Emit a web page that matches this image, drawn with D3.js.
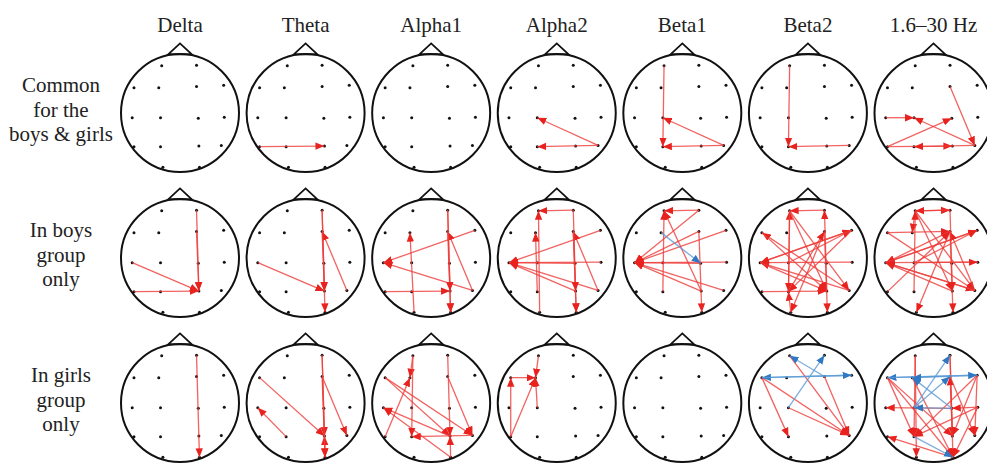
<!DOCTYPE html>
<html>
<head>
<meta charset="utf-8">
<script src="https://cdn.jsdelivr.net/npm/d3@7/dist/d3.min.js"></script>
<style>
  body { margin: 0; background: #fff; }
  svg text { font-family: "Liberation Serif", "Times New Roman", serif; fill: #222; }
</style>
</head>
<body>
<div id="chart"></div>
<script>
// frequency bands (columns) and groups (rows)
const bands = ["Delta", "Theta", "Alpha1", "Alpha2", "Beta1", "Beta2", "1.6\u201330 Hz"];
const groupLabels = [
  ["Common", "for the", "boys & girls"],
  ["In boys", "group", "only"],
  ["In girls", "group", "only"]
];

// 16 electrode montage, head radius = 1, y grows to the back of the head
const electrodes = ["Fp1", "Fp2", "F7", "F3", "F4", "F8", "T3", "C3", "C4", "T4", "T5", "P3", "P4", "T6", "O1", "O2"];
const elecX = [-0.31, 0.28, -0.78, -0.36, 0.28, 0.74, -0.81, -0.33, 0.31, 0.75, -0.78, -0.33, 0.32, 0.70, -0.29, 0.33];
const elecY = [-0.80, -0.81, -0.43, -0.43, -0.45, -0.47, 0.08, 0.08, 0.09, 0.07, 0.57, 0.57, 0.56, 0.55, 0.92, 0.92];

// directed connections "from-to", one list per band
const commonRed = [
  [],
  ["T5-P4"],
  [],
  ["T6-C3", "T6-P3"],
  ["Fp1-P3", "T6-C3", "T6-P3"],
  ["Fp1-P3", "T6-P3"],
  ["T3-C3", "F4-T6", "T5-C4", "T6-C3", "T5-P4", "T6-P3"]
];
const commonBlue = [[], [], [], [], [], [], []];

const boysRed = [
  ["Fp2-P4", "F4-P4", "T3-P4", "T5-P4"],
  ["Fp2-O2", "T6-F4", "T3-P4", "F4-P4", "Fp2-P4"],
  ["O1-F3", "F8-T3", "T6-T3", "T5-P4", "T6-F4", "Fp2-O2", "F4-O2", "Fp2-P4"],
  ["Fp2-Fp1", "O1-Fp1", "P3-F3", "F8-T3", "T4-T3", "C4-T3", "P4-T3", "T6-T3", "T6-F4", "F4-O2", "Fp2-O2", "F4-P4"],
  ["Fp2-Fp1", "P3-Fp1", "P4-Fp1", "Fp2-T3", "F4-T3", "F8-T3", "T4-T3", "C4-T3", "P4-T3", "T6-T3", "F4-O2"],
  ["Fp2-Fp1", "P4-Fp2", "P3-Fp1", "Fp1-P3", "O1-P3", "F4-O1", "T6-F7", "T3-F8", "C3-F8", "F8-T3", "T4-T3",
   "T6-T3", "T5-P4", "Fp1-P4", "Fp1-T6", "F7-P4", "F4-O2", "P3-F4", "F8-P3", "T3-P4"],
  ["Fp1-Fp2", "Fp2-Fp1", "Fp1-F3", "F7-F4", "F8-T3", "F4-T3", "T4-T3", "C3-T4", "T3-F8", "T3-T6", "F7-T6",
   "Fp1-T6", "F4-O1", "F4-O2", "T5-F4", "P3-Fp1", "T6-T3", "P4-T3", "Fp1-P4", "T6-F4", "C3-F8", "Fp2-P4"]
];
const boysBlue = [[], [], [], [], ["F3-C4"], [], []];

const girlsRed = [
  ["Fp2-O2"],
  ["F7-P4", "P3-T3", "F4-T6", "Fp2-O2", "Fp2-P4", "O2-P4", "F4-O2"],
  ["Fp1-F3", "T5-F3", "F7-P4", "F7-T6", "O2-T3", "P4-T3", "Fp1-P3", "T6-P3", "F4-T6", "Fp2-P4", "O2-P4"],
  ["Fp1-F3", "F7-F3", "T5-F7", "T5-F3", "C3-F3"],
  [],
  ["Fp1-T6", "F7-T6", "F7-P3", "F4-T6", "C3-T6"],
  ["Fp1-O1", "Fp1-P3", "Fp2-O2", "Fp2-P4", "P4-F4", "F7-P3", "F7-P4", "F7-O2", "F8-P3", "F8-P4", "T4-C4",
   "T4-P3", "O2-T5", "C4-T3", "F4-T6", "T4-O2", "F3-O2", "F8-T6"]
];
const girlsBlue = [
  [], [], [], [], [],
  ["F4-Fp1", "C3-Fp2", "F8-F7", "F7-F8"],
  ["F8-F7", "F7-F8", "F4-F3", "C4-C3", "C4-F3", "C3-Fp2", "C3-F4", "P3-O2"]
];

const redLinks = [commonRed, boysRed, girlsRed];
const blueLinks = [commonBlue, boysBlue, girlsBlue];

const width = 987;
const height = 463;
const r = 59;

const svg = d3.select('#chart')
  .append('svg')
  .attr('width', width)
  .attr('height', height);

const defs = svg.append('defs');
const arrowColors = { red: '#e8231f', blue: '#2f78c4' };
Object.keys(arrowColors).forEach(k => {
  defs.append('marker')
    .attr('id', 'arrow-' + k)
    .attr('markerUnits', 'userSpaceOnUse')
    .attr('markerWidth', 10)
    .attr('markerHeight', 8)
    .attr('refX', 9)
    .attr('refY', 4)
    .attr('orient', 'auto')
    .append('path')
    .attr('d', 'M0,0.3 L9,4 L0,7.7 Z')
    .attr('fill', arrowColors[k]);
});

const colScale = d3.scaleLinear().domain([0, bands.length - 1]).range([180, 933.5]);
const rowScale = d3.scaleLinear().domain([0, groupLabels.length - 1]).range([113, 403]);

// column titles
svg.selectAll('.band-title')
  .data(bands)
  .enter()
  .append('text')
  .attr('class', 'band-title')
  .attr('x', (d, i) => colScale(i))
  .attr('y', 31.5)
  .attr('text-anchor', 'middle')
  .style('font-size', '21px')
  .text(d => d);

// row labels
groupLabels.forEach((lines, row) => {
  const t = svg.append('text')
    .attr('text-anchor', 'middle')
    .style('font-size', '21px');
  lines.forEach((line, j) => {
    t.append('tspan')
      .attr('x', 61)
      .attr('y', rowScale(row) - 21 + j * 24.7)
      .text(line);
  });
});

const index = {};
electrodes.forEach((e, i) => index[e] = i);

const drawHead = (row, col) => {
  const cx = colScale(col);
  const cy = rowScale(row);
  const hx = d3.scaleLinear().domain([-1, 1]).range([cx - r, cx + r]);
  const hy = d3.scaleLinear().domain([-1, 1]).range([cy - r, cy + r]);
  const g = svg.append('g').attr('class', 'head');

  // nose
  g.append('path')
    .attr('d', d3.line()([[hx(-0.2), hy(-0.995)], [hx(0), hy(-1.18)], [hx(0.2), hy(-0.995)]]) + 'Z')
    .attr('fill', 'none')
    .attr('stroke', '#111')
    .attr('stroke-width', 1.8);

  g.append('circle')
    .attr('cx', hx(0))
    .attr('cy', hy(0))
    .attr('r', hx(1) - hx(0))
    .attr('fill', 'none')
    .attr('stroke', '#111')
    .attr('stroke-width', 2);

  g.selectAll('.electrode')
    .data(electrodes)
    .enter()
    .append('circle')
    .attr('class', 'electrode')
    .attr('cx', (d, i) => hx(elecX[i]))
    .attr('cy', (d, i) => hy(elecY[i]))
    .attr('r', 1.5)
    .attr('fill', '#111');

  const addLinks = (links, color, stroke) => {
    g.selectAll('.link-' + color)
      .data(links.map(s => s.split('-')))
      .enter()
      .append('line')
      .attr('class', 'link-' + color)
      .attr('x1', d => hx(elecX[index[d[0]]]))
      .attr('y1', d => hy(elecY[index[d[0]]]))
      .attr('x2', d => hx(elecX[index[d[1]]]))
      .attr('y2', d => hy(elecY[index[d[1]]]))
      .attr('stroke', stroke)
      .attr('stroke-opacity', 0.8)
      .attr('stroke-width', 1.3)
      .attr('marker-end', 'url(#arrow-' + color + ')');
  };
  addLinks(redLinks[row][col], 'red', '#ee3c3a');
  addLinks(blueLinks[row][col], 'blue', '#5a9ad6');
};

for (let row = 0; row < groupLabels.length; row++) {
  for (let col = 0; col < bands.length; col++) {
    drawHead(row, col);
  }
}
</script>
</body>
</html>
